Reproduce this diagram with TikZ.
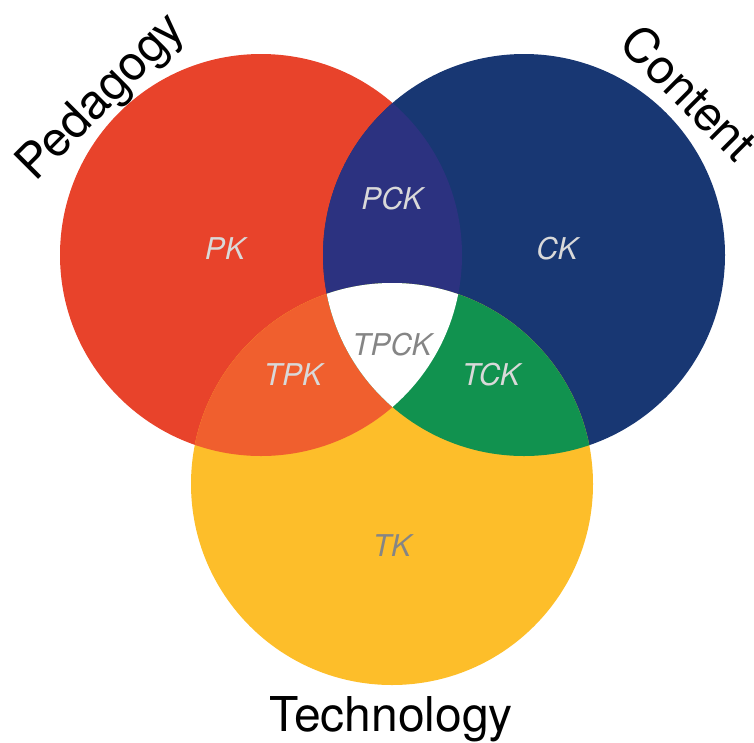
\documentclass[tikz,border=0pt]{standalone}
\usepackage{fontspec}
\setmainfont{TeX Gyre Heros}
\definecolor{pedred}{HTML}{E8432B}
\definecolor{conblue}{HTML}{183773}
\definecolor{techyel}{HTML}{FDBE2A}
\definecolor{pckcol}{HTML}{2C3280}
\definecolor{tpkcol}{HTML}{F05F2E}
\definecolor{tckcol}{HTML}{11924F}
\definecolor{lightlab}{HTML}{D9D9D9}
\definecolor{darklab}{HTML}{858585}
\begin{document}
\begin{tikzpicture}[x=1pt,y=-1pt,
  bigtitle/.style={font=\fontsize{48}{52}\selectfont, text=black, inner sep=0pt, anchor=base},
  innerlab/.style={font=\fontsize{30}{34}\selectfont\itshape, inner sep=0pt, anchor=base},
  lightlab/.style={innerlab, text=lightlab},
  darklab/.style={innerlab, text=darklab}]
\useasboundingbox (0,0) rectangle (754,742);
\coordinate (P) at (261,255);
\coordinate (C) at (524,255);
\coordinate (T) at (392,484);
\def\rr{201}
% base circles
\fill[pedred] (P) circle (\rr);
\fill[conblue] (C) circle (\rr);
\fill[techyel] (T) circle (\rr);
% pairwise intersections
\begin{scope}
  \clip (P) circle (\rr);
  \fill[pckcol] (C) circle (\rr);
  \fill[tpkcol] (T) circle (\rr);
\end{scope}
\begin{scope}
  \clip (C) circle (\rr);
  \fill[tckcol] (T) circle (\rr);
\end{scope}
% triple intersection
\begin{scope}
  \clip (P) circle (\rr);
  \clip (C) circle (\rr);
  \fill[white] (T) circle (\rr);
\end{scope}
% titles
\node[bigtitle, rotate=45] (ped) at (111,107) {Pedagogy};
\node[bigtitle, rotate=-45] (con) at (677,105) {Content};
\node[bigtitle] (tec) at (391,731) {Technology};
% region labels
\node[lightlab] (pk) at (225,259) {PK};
\node[lightlab] (ck) at (557,259) {CK};
\node[lightlab] (pck) at (392,209) {PCK};
\node[darklab] (tpck) at (392,355) {TPCK};
\node[lightlab] (tpk) at (293,385) {TPK};
\node[lightlab] (tck) at (491,385) {TCK};
\node[darklab] (tk) at (392,556) {TK};
\end{tikzpicture}
\end{document}
